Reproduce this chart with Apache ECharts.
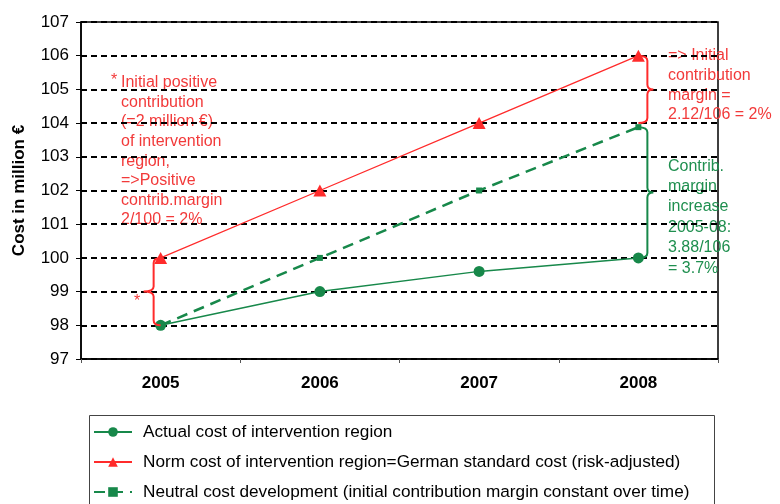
<!DOCTYPE html>
<html><head><meta charset="utf-8">
<script src="https://cdn.jsdelivr.net/npm/echarts@6/dist/echarts.min.js"></script>
<style>html,body{margin:0;padding:0;background:#fff}#c{width:780px;height:504px}</style>
</head><body><div id="c"></div>
<script>
const years = ['2005', '2006', '2007', '2008'];
const actualCost = [98, 99, 99.6, 100];
const normCost = [100, 102, 104, 106];
const neutralCost = [98, 100, 102, 103.88];
const seriesNames = [
  'Actual cost of intervention region',
  'Norm cost of intervention region=German standard cost (risk-adjusted)',
  'Neutral cost development (initial contribution margin constant over time)'
];
// brace spans: [category index, low value, high value, direction]
const braceSpans = [[0, 98, 100, -1], [3, 104, 106, 1], [3, 100, 103.88, 1]];
const noteLeft = 'Initial positive\ncontribution\n(=2 million €)\nof intervention\nregion,\n=>Positive\ncontrib.margin\n2/100 = 2%';
const noteRightRed = '=> Initial\ncontribution\nmargin =\n2.12/106 = 2%';
const noteRightGreen = 'Contrib.\nmargin\nincrease\n2005-08:\n3.88/106\n= 3.7%';

const RED = '#ff2b2b', GREEN = '#17884a', TXTRED = '#f23a3a', TXTGREEN = '#1f8f4f';
const FONT = '"Liberation Sans", Arial, sans-serif';
const braceColors = [RED, RED, GREEN];

const chart = echarts.init(document.getElementById('c'), null, {renderer: 'canvas'});
chart.setOption({
  animation: false,
  backgroundColor: '#fff',
  textStyle: {fontFamily: FONT},
  grid: {left: 81, right: 62, top: 22, bottom: 145, show: true, borderColor: '#000', borderWidth: 1.5, backgroundColor: 'transparent'},
  xAxis: {
    type: 'category', data: years, boundaryGap: true,
    axisLine: {lineStyle: {color: '#000', width: 1.5}},
    axisTick: {show: true, length: 4, lineStyle: {color: '#555'}},
    axisLabel: {color: '#000', fontWeight: 'bold', fontSize: 17, margin: 16, fontFamily: FONT},
    splitLine: {show: false}
  },
  yAxis: {
    type: 'value', min: 97, max: 107, interval: 1,
    name: 'Cost in million €', nameLocation: 'middle', nameRotate: 90, nameGap: 53,
    nameTextStyle: {color: '#000', fontWeight: 'bold', fontSize: 17, fontFamily: FONT},
    axisLine: {show: true, lineStyle: {color: '#000', width: 1.5}},
    axisTick: {show: true, inside: false, length: 5, lineStyle: {color: '#000', width: 1}},
    axisLabel: {color: '#000', fontSize: 17, margin: 12, fontFamily: FONT},
    splitLine: {show: true, lineStyle: {color: '#000', type: [6, 4], width: 2}}
  },
  legend: {
    orient: 'vertical', left: 93, top: 422, padding: 0, height: 90, itemWidth: 38, itemHeight: 12, itemGap: 10,
    data: seriesNames,
    textStyle: {color: '#000', fontSize: 17.2, lineHeight: 20, fontFamily: FONT, padding: [0, 0, 0, 6]}
  },
  series: [
    {
      name: seriesNames[0], type: 'line', data: actualCost, z: 3,
      symbol: 'circle', symbolSize: 11,
      lineStyle: {color: GREEN, width: 1.5}, itemStyle: {color: GREEN}
    },
    {
      name: seriesNames[1], type: 'line', data: normCost, z: 4,
      symbol: 'triangle', symbolSize: [13, 12],
      lineStyle: {color: RED, width: 1.3}, itemStyle: {color: RED}
    },
    {
      name: seriesNames[2], type: 'line', data: neutralCost, z: 2,
      symbol: 'rect', symbolSize: 6,
      lineStyle: {color: GREEN, width: 2.5, type: [11, 7]}, itemStyle: {color: GREEN}
    },
    {
      name: 'braces', type: 'custom', coordinateSystem: 'cartesian2d', z: 5,
      data: braceSpans, encode: {x: 0, y: [1, 2]}, silent: true,
      renderItem: function (params, api) {
        const c = api.value(0), lo = api.value(1), hi = api.value(2), dir = api.value(3);
        const pT = api.coord([c, hi]), pB = api.coord([c, lo]);
        const x0 = pT[0];
        const off = dir < 0 ? 7 : 9, tip = dir < 0 ? 10 : 6, r = 5;
        const xv = x0 + dir * off, yT = pT[1], yB = pB[1], ym = (yT + yB) / 2;
        const d = 'M' + x0 + ' ' + yT + ' Q' + xv + ' ' + yT + ' ' + xv + ' ' + (yT + r) +
          ' L' + xv + ' ' + (ym - r) + ' Q' + xv + ' ' + ym + ' ' + (xv + dir * tip) + ' ' + ym +
          ' Q' + xv + ' ' + ym + ' ' + xv + ' ' + (ym + r) +
          ' L' + xv + ' ' + (yB - r) + ' Q' + xv + ' ' + yB + ' ' + x0 + ' ' + yB;
        return {type: 'path', shape: {pathData: d}, style: {stroke: braceColors[params.dataIndex], fill: 'none', lineWidth: 2}};
      }
    }
  ],
  graphic: [
    {type: 'rect', left: 87, top: 413, shape: {width: 625, height: 110}, style: {fill: 'none', stroke: '#444', lineWidth: 1}, silent: true},
    {type: 'text', x: 111, y: 73, style: {text: '*', fill: TXTRED, font: '16px ' + FONT, textVerticalAlign: 'top'}},
    {type: 'text', x: 121, y: 73, style: {text: noteLeft, fill: TXTRED, font: '16px ' + FONT, lineHeight: 19.6, textVerticalAlign: 'top'}},
    {type: 'text', x: 134, y: 294, style: {text: '*', fill: TXTRED, font: '16px ' + FONT, textVerticalAlign: 'top'}},
    {type: 'text', x: 668, y: 46, style: {text: noteRightRed, fill: TXTRED, font: '16px ' + FONT, lineHeight: 19.7, textVerticalAlign: 'top'}},
    {type: 'text', x: 668, y: 156, style: {text: noteRightGreen, fill: TXTGREEN, font: '16px ' + FONT, lineHeight: 20.4, textVerticalAlign: 'top'}}
  ]
});
</script></body></html>
